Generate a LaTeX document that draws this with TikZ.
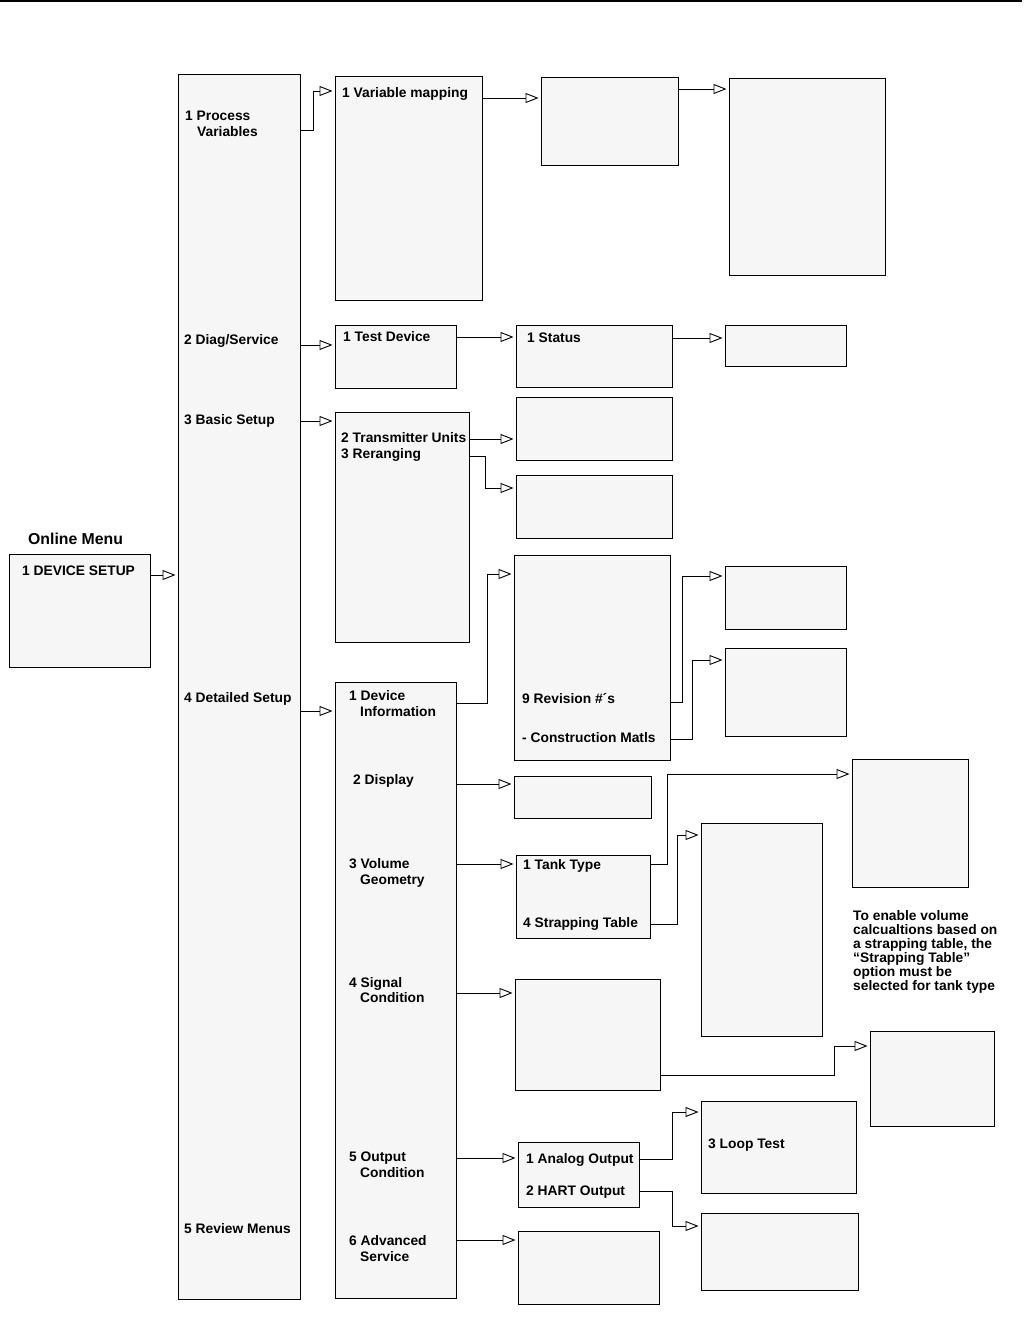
\documentclass[tikz,border=0pt]{standalone}
\usepackage{fontspec}
\setmainfont{Liberation Sans}
\usetikzlibrary{arrows.meta}
\definecolor{boxfill}{HTML}{F6F6F6}
\tikzset{
  box/.style={draw=black, line width=0.9pt, fill=boxfill, inner sep=0pt, outer sep=0pt, rectangle},
  arr/.style={draw=black, line width=0.9pt, -{Triangle[open, length=13pt, width=10pt]}, shorten >=2.5pt},
  lbl/.style={anchor=base west, inner sep=0pt, font=\fontsize{13.8}{16}\selectfont\bfseries},
  ttl/.style={anchor=base west, inner sep=0pt, font=\fontsize{15.8}{18}\selectfont\bfseries}
}
\newcommand{\bx}[5]{\node[box, anchor=north west, minimum width={(#4-#2)*1pt}, minimum height={(#5-#3)*1pt}] (#1) at (#2,#3) {};}
\begin{document}
\begin{tikzpicture}[x=1pt, y=-1pt]
\useasboundingbox (0,0) rectangle (1027,1321);
\draw[line width=1.2pt] (0,1) -- (1022,1);

% boxes
\bx{dev}{9}{554}{150}{667}
\bx{main}{178}{74}{300}{1299}
\bx{varmap}{335}{76}{482}{300}
\bx{bA}{541}{77}{678}{165}
\bx{bB}{729}{78}{885}{275}
\bx{testdev}{335}{325}{456}{388}
\bx{status}{516}{325}{672}{387}
\bx{bC}{725}{325}{846}{366}
\bx{basic}{335}{412}{469}{642}
\bx{bD}{516}{397}{672}{460}
\bx{bE}{516}{475}{672}{538}
\bx{detailed}{335}{682}{456}{1298}
\bx{devinfo}{514}{555}{670}{760}
\bx{bF}{725}{566}{846}{629}
\bx{bG}{725}{648}{846}{736}
\bx{display}{514}{776}{651}{818}
\bx{tank}{516}{855}{650}{938}
\bx{bH}{852}{759}{968}{887}
\bx{bI}{701}{823}{822}{1036}
\bx{signal}{515}{979}{660}{1090}
\bx{bJ}{870}{1031}{994}{1126}
\bx{analog}{518}{1142}{639}{1207}
\bx{loop}{701}{1101}{856}{1193}
\bx{bK}{701}{1213}{858}{1290}
\bx{advanced}{518}{1231}{659}{1304}

% labels
\node[ttl] (tonline) at (28,544) {Online Menu};
\node[lbl] (tdev) at (22,575) {1 DEVICE SETUP};
\node[lbl] (tpv1) at (185,121) {1 Process};
\node[lbl] (tpv2) at (197,137) {Variables};
\node[lbl] (tdiag) at (184,344) {2 Diag/Service};
\node[lbl] (tbasic) at (184,424) {3 Basic Setup};
\node[lbl] (tdet) at (184,702) {4 Detailed Setup};
\node[lbl] (trev) at (184,1233) {5 Review Menus};
\node[lbl] (tvar) at (342,98) {1 Variable mapping};
\node[lbl] (ttest) at (343,341) {1 Test Device};
\node[lbl] (tstat) at (527,342) {1 Status};
\node[lbl] (ttu) at (341,442) {2 Transmitter Units};
\node[lbl] (trr) at (341,458) {3 Reranging};
\node[lbl] (tdi1) at (349,700) {1 Device};
\node[lbl] (tdi2) at (360,716) {Information};
\node[lbl] (trev9) at (522,703) {9 Revision \#´s};
\node[lbl] (tcm) at (522,742) {- Construction Matls};
\node[lbl] (tdisp) at (353,784) {2 Display};
\node[lbl] (tvg1) at (349,868) {3 Volume};
\node[lbl] (tvg2) at (360,884) {Geometry};
\node[lbl] (ttank) at (523,869) {1 Tank Type};
\node[lbl] (tstrap) at (523,927) {4 Strapping Table};
\node[lbl] (tsc1) at (349,987) {4 Signal};
\node[lbl] (tsc2) at (360,1002) {Condition};
\node[lbl] (toc1) at (349,1161) {5 Output};
\node[lbl] (toc2) at (360,1177) {Condition};
\node[lbl] (tas1) at (349,1245) {6 Advanced};
\node[lbl] (tas2) at (360,1261) {Service};
\node[lbl] (tao) at (526,1163) {1 Analog Output};
\node[lbl] (tho) at (526,1195) {2 HART Output};
\node[lbl] (tloop) at (708,1148) {3 Loop Test};
\node[lbl] (n1) at (853,920) {To enable volume};
\node[lbl] (n2) at (853,934) {calcualtions based on};
\node[lbl] (n3) at (853,948) {a strapping table, the};
\node[lbl] (n4) at (853,962) {“Strapping Table”};
\node[lbl] (n5) at (853,976) {option must be};
\node[lbl] (n6) at (853,990) {selected for tank type};

% connectors
\draw[arr] (dev.east |- 0,575) -- (main.west |- 0,575);
\draw[arr] (main.east |- 0,130) -| (313,91) -- (varmap.west |- 0,91);
\draw[arr] (varmap.east |- 0,98) -- (bA.west |- 0,98);
\draw[arr] (bA.east |- 0,89) -- (bB.west |- 0,89);
\draw[arr] (main.east |- 0,345) -- (testdev.west |- 0,345);
\draw[arr] (testdev.east |- 0,337) -- (status.west |- 0,337);
\draw[arr] (status.east |- 0,338) -- (bC.west |- 0,338);
\draw[arr] (main.east |- 0,421) -- (basic.west |- 0,421);
\draw[arr] (basic.east |- 0,439) -- (bD.west |- 0,439);
\draw[arr] (basic.east |- 0,456) -| (485,488) -- (bE.west |- 0,488);
\draw[arr] (main.east |- 0,711) -- (detailed.west |- 0,711);
\draw[arr] (detailed.east |- 0,703) -| (487,574) -- (devinfo.west |- 0,574);
\draw[arr] (devinfo.east |- 0,702) -| (682,576) -- (bF.west |- 0,576);
\draw[arr] (devinfo.east |- 0,739) -| (692,660) -- (bG.west |- 0,660);
\draw[arr] (detailed.east |- 0,784) -- (display.west |- 0,784);
\draw[arr] (detailed.east |- 0,864) -- (tank.west |- 0,864);
\draw[arr] (tank.east |- 0,864) -| (667,774) -- (bH.west |- 0,774);
\draw[arr] (tank.east |- 0,924) -| (677,835) -- (bI.west |- 0,835);
\draw[arr] (detailed.east |- 0,993) -- (signal.west |- 0,993);
\draw[arr] (signal.east |- 0,1075) -| (834,1046) -- (bJ.west |- 0,1046);
\draw[arr] (detailed.east |- 0,1158) -- (analog.west |- 0,1158);
\draw[arr] (analog.east |- 0,1159) -| (672,1112) -- (loop.west |- 0,1112);
\draw[arr] (analog.east |- 0,1191) -| (672,1226) -- (bK.west |- 0,1226);
\draw[arr] (detailed.east |- 0,1240) -- (advanced.west |- 0,1240);
\end{tikzpicture}
\end{document}
